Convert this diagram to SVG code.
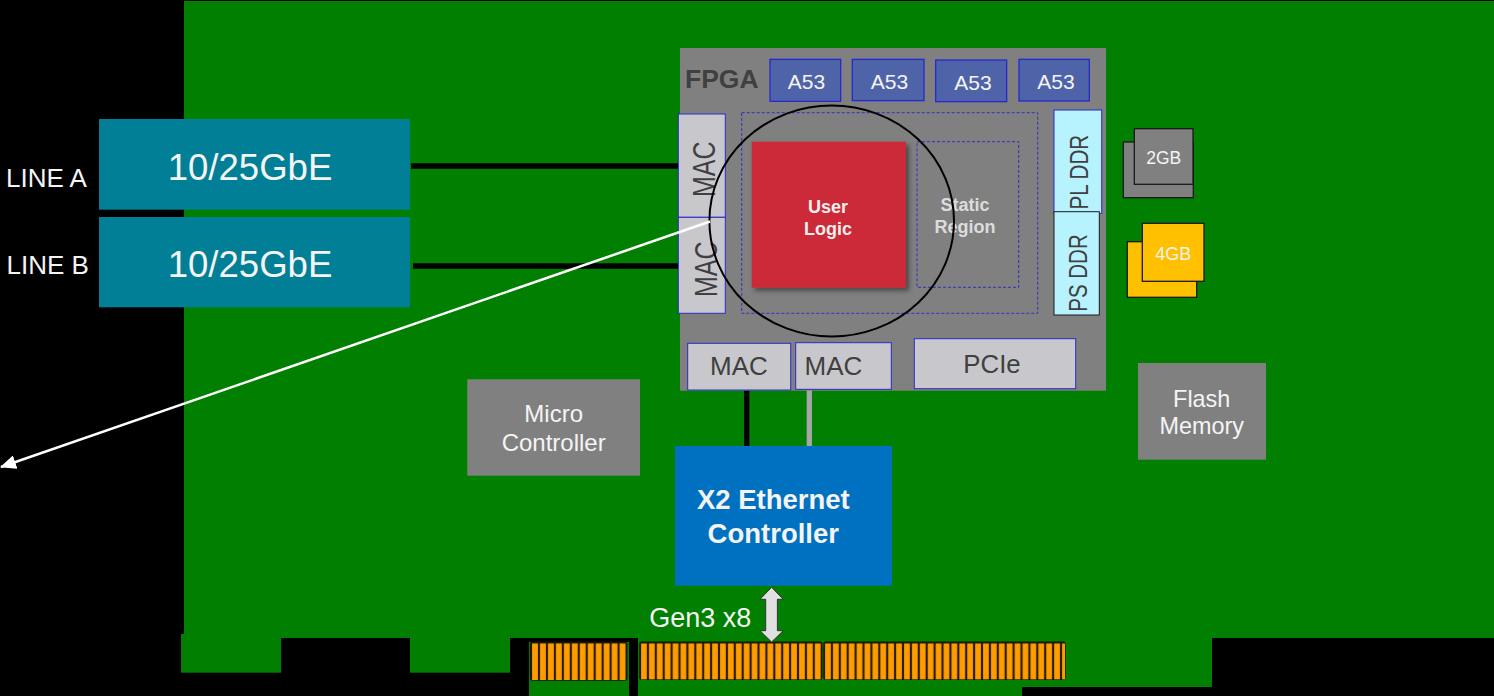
<svg xmlns="http://www.w3.org/2000/svg" width="1494" height="696" viewBox="0 0 1494 696">
<defs>
<style>
text{font-family:"Liberation Sans",Arial,sans-serif}
.w{fill:#F4F4F4}
.dg{fill:#404040}
.b{font-weight:bold}
.mac{fill:#C8C8CC;stroke:#2A2AD0;stroke-width:1}
.a53{fill:#4F64A8;stroke:#2222D8;stroke-width:1.2}
.ddr{fill:#B7F3FF}
.dash{fill:none;stroke:#2F2FC8;stroke-width:1;stroke-dasharray:3 2}
.chip{stroke:#1A1A1A;stroke-width:1.3}
.seg{fill:#2A1E00;stroke:#1A1A00;stroke-width:1.5}
</style>
<filter id="sh" x="-10%" y="-10%" width="130%" height="130%">
<feDropShadow dx="3" dy="3" stdDeviation="2.5" flood-color="#000" flood-opacity="0.45"/>
</filter>
<pattern id="p1" patternUnits="userSpaceOnUse" x="531" y="642" width="7.96" height="40"><rect x="1.1" y="1.5" width="5.8" height="37" fill="#FF9C00"/></pattern>
<pattern id="p2" patternUnits="userSpaceOnUse" x="640" y="642" width="7.9" height="40"><rect x="1.1" y="1.5" width="5.7" height="37" fill="#FF9C00"/></pattern>
<pattern id="p3" patternUnits="userSpaceOnUse" x="824" y="642" width="7.9" height="40"><rect x="1.1" y="1.5" width="5.7" height="37" fill="#FF9C00"/></pattern>
<marker id="ah" viewBox="0 0 16 14" refX="15" refY="7" markerWidth="16" markerHeight="14" markerUnits="userSpaceOnUse" orient="auto"><path d="M0,0 L16,7 L0,14 Z" fill="#FFFFFF"/></marker>
</defs>
<rect x="0" y="0" width="1494" height="696" fill="#000"/>
<g id="board" fill="#007F00">
<rect x="184" y="1" width="1310" height="637"/>
<rect x="181" y="634" width="100" height="38.7"/>
<rect x="410" y="636" width="100" height="36.7"/>
<rect x="529" y="642" width="100" height="54"/>
<rect x="638" y="636" width="384" height="60"/>
<rect x="1022" y="636" width="190" height="51"/>
</g>
<g id="edge-connector">
<rect class="seg" x="530.7" y="642.5" width="96" height="37.5" rx="2"/>
<rect x="530.7" y="642.5" width="96" height="37.5" fill="url(#p1)"/>
<rect class="seg" x="640" y="642.3" width="181.7" height="37" rx="2"/>
<rect x="640" y="642.3" width="181.7" height="37" fill="url(#p2)"/>
<rect class="seg" x="824" y="642.3" width="241" height="37" rx="2"/>
<rect x="824" y="642.3" width="241" height="37" fill="url(#p3)"/>
</g>
<g id="connectors">
<line x1="411" y1="166" x2="680" y2="166" stroke="#000" stroke-width="5.4"/>
<line x1="413" y1="266" x2="680" y2="266" stroke="#000" stroke-width="5.4"/>
<line x1="746.7" y1="389" x2="746.7" y2="447" stroke="#000" stroke-width="5.3"/>
<line x1="809.3" y1="389" x2="809.3" y2="447" stroke="#A6A6A6" stroke-width="5.3"/>
<polygon points="771.6,587.3 760,599.3 765.7,599.3 765.7,630.7 760,630.7 771.6,642 783.2,630.7 777.4,630.7 777.4,599.3 783.2,599.3" fill="#E0E0E0" stroke="#333" stroke-width="1"/>
</g>
<g id="line-a">
<text x="6" y="187.3" font-size="26" class="w">LINE A</text>
<rect x="99" y="119" width="311" height="90.7" fill="#007F96"/>
<text x="250" y="180" font-size="36.6" class="w" text-anchor="middle">10/25GbE</text>
</g>
<g id="line-b">
<text x="6.5" y="274" font-size="26" class="w">LINE B</text>
<rect x="99" y="217" width="311" height="90.3" fill="#007F96"/>
<text x="250" y="276.7" font-size="36.6" class="w" text-anchor="middle">10/25GbE</text>
</g>
<g id="fpga">
<rect x="680" y="48" width="426" height="342.7" fill="#808080"/>
<text x="685" y="88" font-size="26.5" class="dg b">FPGA</text>
</g>
<g id="a53-1"><rect class="a53" x="770" y="59.3" width="70.7" height="42"/><text x="806.5" y="89.3" font-size="21" class="w" text-anchor="middle">A53</text></g>
<g id="a53-2"><rect class="a53" x="852.3" y="59.3" width="71.7" height="41.4"/><text x="889.5" y="89.3" font-size="21" class="w" text-anchor="middle">A53</text></g>
<g id="a53-3"><rect class="a53" x="935.7" y="60" width="71" height="41.7"/><text x="973" y="89.6" font-size="21" class="w" text-anchor="middle">A53</text></g>
<g id="a53-4"><rect class="a53" x="1019" y="59.3" width="70.3" height="41.7"/><text x="1056" y="89.3" font-size="21" class="w" text-anchor="middle">A53</text></g>
<g id="pl-region">
<rect class="dash" x="741.7" y="112.7" width="296" height="200.6"/>
</g>
<g id="static-region">
<rect class="dash" x="917" y="141.7" width="101.7" height="145.6"/>
<text x="965" y="210.7" font-size="18" class="b" fill="#DCDCDC" text-anchor="middle">Static</text>
<text x="965" y="232.7" font-size="18" class="b" fill="#DCDCDC" text-anchor="middle">Region</text>
</g>
<g id="user-logic">
<rect x="751.7" y="141.7" width="154.3" height="146" fill="#CC2B37" filter="url(#sh)"/>
<text x="828" y="212.7" font-size="18" class="b" fill="#EEEEEE" text-anchor="middle">User</text>
<text x="828" y="235" font-size="18" class="b" fill="#EEEEEE" text-anchor="middle">Logic</text>
</g>
<g id="mac-a">
<rect class="mac" x="678.3" y="114" width="47" height="103.3"/>
<text transform="translate(715.3,169.2) rotate(-90) scale(1,1.24)" font-size="25" class="dg" text-anchor="middle">MAC</text>
</g>
<g id="mac-b">
<rect class="mac" x="678.3" y="217.3" width="47" height="96"/>
<text transform="translate(716.7,269.2) rotate(-90) scale(1,1.24)" font-size="25" class="dg" text-anchor="middle">MAC</text>
</g>
<g id="mac-c">
<rect class="mac" x="687.7" y="343.3" width="103" height="46.7"/>
<text x="739" y="375" font-size="26" class="dg" text-anchor="middle">MAC</text>
</g>
<g id="mac-d">
<rect class="mac" x="795.7" y="342.7" width="95.6" height="46.6"/>
<text x="833.5" y="375" font-size="26" class="dg" text-anchor="middle">MAC</text>
</g>
<g id="pcie">
<rect class="mac" x="914.3" y="338.7" width="161.4" height="50"/>
<text x="992" y="373.3" font-size="25.8" class="dg" text-anchor="middle">PCIe</text>
</g>
<g id="pl-ddr">
<rect class="ddr" x="1054" y="110" width="47.7" height="103.3" stroke="#2A2AD0" stroke-width="1"/>
<text transform="translate(1088.3,172.2) rotate(-90) scale(1,1.24)" font-size="20.6" class="dg" text-anchor="middle">PL DDR</text>
</g>
<g id="ps-ddr">
<rect class="ddr" x="1054" y="211.7" width="45.3" height="103.3" stroke="#1A1A1A" stroke-width="1"/>
<text transform="translate(1086.7,273) rotate(-90) scale(1,1.24)" font-size="20.5" class="dg" text-anchor="middle">PS DDR</text>
</g>
<g id="ram-2gb">
<rect class="chip" x="1123.3" y="142" width="70" height="55.7" fill="#808080"/>
<rect class="chip" x="1134.3" y="128.7" width="58.7" height="55.6" fill="#808080"/>
<text x="1163.7" y="164" font-size="17.5" class="w" text-anchor="middle">2GB</text>
</g>
<g id="ram-4gb">
<rect class="chip" x="1127.3" y="241.7" width="69.4" height="55.6" fill="#FFC000"/>
<rect class="chip" x="1142.3" y="223.3" width="61.7" height="58" fill="#FFC000"/>
<text x="1173.3" y="260" font-size="18" class="w" text-anchor="middle">4GB</text>
</g>
<g id="circle">
<ellipse cx="831.7" cy="221" rx="122.3" ry="115.5" fill="none" stroke="#000" stroke-width="2"/>
</g>
<g id="callout">
<line x1="710" y1="221.5" x2="1" y2="467" stroke="#FFFFFF" stroke-width="2.5" marker-end="url(#ah)"/>
</g>
<g id="micro-controller">
<rect x="467.3" y="379.3" width="172.7" height="96.4" fill="#808080"/>
<text x="553.7" y="421.7" font-size="24" class="w" text-anchor="middle">Micro</text>
<text x="553.7" y="450.7" font-size="24" class="w" text-anchor="middle">Controller</text>
</g>
<g id="flash-memory">
<rect x="1138" y="363" width="128" height="96.7" fill="#808080"/>
<text x="1201.7" y="406.7" font-size="23.4" class="w" text-anchor="middle">Flash</text>
<text x="1201.7" y="434" font-size="23.4" class="w" text-anchor="middle">Memory</text>
</g>
<g id="ethernet-controller">
<rect x="675" y="446" width="217" height="139.7" fill="#0070C0"/>
<text x="773.3" y="509.3" font-size="27.5" class="w b" text-anchor="middle">X2 Ethernet</text>
<text x="773.3" y="542.7" font-size="27.5" class="w b" text-anchor="middle">Controller</text>
</g>
<g id="gen3">
<text x="649.3" y="626.7" font-size="27" class="w">Gen3 x8</text>
</g>
</svg>
